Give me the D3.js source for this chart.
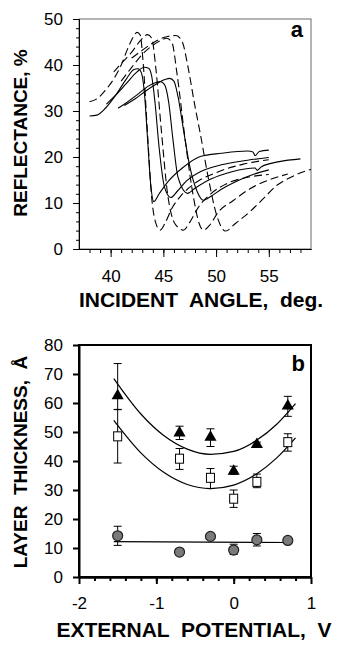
<!DOCTYPE html>
<html>
<head>
<meta charset="utf-8">
<script src="https://cdn.jsdelivr.net/npm/d3@7"></script>
<style>
  body { margin: 0; background: #fff; }
  svg { display: block; font-family: "Liberation Sans", Arial, sans-serif; }
  .tick text { font-size: 17px; fill: #000; }
  .title { font-weight: bold; fill: #000; white-space: pre; }
</style>
</head>
<body>
<svg width="337" height="647"></svg>
<script>
// ---- panel a : reflectance curves (angle, %) ----
const solid1 = [[38,28.9],[38.7,29.1],[39.5,30.6],[40.5,33.5],[41.5,37],[42.2,39],[42.6,39.2],[42.9,38.4],[43.2,34],[43.5,24],[43.8,14],[44.1,10.3],[44.6,12],[45.5,14.8],[46.8,17.6],[48.5,20.1],[50.5,20.8],[53,21.3],[53.5,21.1],[53.7,20.3],[54.1,21.2],[55,21.5]];
const solid2 = [[39.6,31.5],[40.5,33.5],[41.5,36],[42.5,38.5],[43.2,39.5],[43.6,39.3],[43.9,37.5],[44.2,32],[44.6,22],[45.1,13.5],[45.7,11.2],[46.3,12.5],[47.2,14.8],[48.5,16.8],[50.5,18.3],[53,19.3],[55,19.9]];
const solid3 = [[40.7,30.6],[41.5,31.8],[42.5,33.5],[43.5,35.3],[44.3,36.2],[44.7,36.4],[45.1,35.8],[45.5,32],[45.9,24],[46.4,15.5],[47.3,12.1],[48,13.2],[49.5,15.2],[51.5,16.8],[53.7,17.6],[53.9,17.1],[54.3,17.9],[56,19],[58,19.6]];
const solid4 = [[41.3,31.2],[42.3,32.6],[43.3,34.3],[44.3,35.8],[45.2,36.9],[45.6,37.1],[46,36.5],[46.4,33],[46.9,26],[47.5,18],[48.2,12.5],[48.8,10.6],[49.4,11.3],[50.5,13],[52,14.8],[53.5,16.2],[55,17.2]];
const dash1 = [[38,32],[38.8,32.8],[39.5,34.5],[40.3,37],[41,40],[41.7,44],[42.2,46.3],[42.5,47.1],[42.8,46.5],[43.1,40],[43.5,25],[43.9,11],[44.3,5.5],[44.7,4.1],[45.2,5.8],[45.8,8.8],[46.6,11.4],[48,14.3],[50,16.6],[52.5,18.4],[55,19.4]];
const dash2 = [[40.3,38.5],[41,40.3],[42,42.8],[42.9,45.5],[43.5,46.6],[43.9,45.8],[44.3,39],[44.8,26],[45.4,12],[46.1,5.5],[46.9,4.1],[47.5,5.8],[48.3,9],[49.5,12],[51,14.2],[53,15.6],[55,16.2]];
const dash3 = [[41,36.5],[42,39.5],[43,42.3],[44,44.3],[44.8,45.4],[45.3,45.8],[45.8,45],[46.3,38],[47,25],[47.8,12],[48.4,5.5],[48.8,4.1],[49.4,5.2],[50.2,8],[51.6,10.5],[53.3,13.2],[55,15],[56.8,16.3]];
const dash4 = [[42,41.5],[43,43.2],[44,44.8],[45.2,46.1],[46.2,46.4],[46.8,45],[47.3,40],[48,31],[48.5,25.1],[49.3,15],[50.1,7],[50.9,3.9],[51.8,5.5],[53.2,8.1],[54.5,11],[55.8,13.9],[57,15.5],[58.3,16.8],[59,17.3]];
const solidCurves = [solid1, solid2, solid3, solid4];
const dashCurves = [dash1, dash2, dash3, dash4];

// ---- panel b : layer thickness vs potential ----
const potentials = [-1.5, -0.7, -0.3, 0, 0.3, 0.7];
const triValues = [62.5, 49.7, 48.2, 36.5, 45.7, 59];
const triLow = [57.8, 47.4, 45, 35.4, 45, 55.4];
const triHigh = [73.6, 52, 51.1, 38.2, 46.5, 62.3];
const sqValues = [48.5, 40.8, 34.2, 27, 32.8, 46.5];
const sqLow = [39.3, 37.1, 30.5, 24, 30.8, 43.4];
const sqHigh = [57.7, 44.3, 37.4, 30, 35.5, 49.4];
const circValues = [14.2, 8.6, 14, 9.3, 12.8, 12.6];
const circLow = [10.9, 8.6, 14, 7.8, 10.7, 12.6];
const circHigh = [17.5, 8.6, 14, 11.3, 15, 12.6];
// fitted curves
const triFit = [[-1.55,68.4],[-1.2,56.2],[-0.9,48.7],[-0.6,44.1],[-0.3,42.3],[0,43.3],[0.3,47.2],[0.55,52.5],[0.8,59.8]];
const sqFit = [[-1.55,54],[-1.2,42.8],[-0.9,36],[-0.6,31.9],[-0.3,30.5],[0,31.7],[0.3,35.6],[0.55,40.9],[0.8,48]];
const circFit = [[-1.55,12.2],[0.75,11.9]];

const xTicksA = [40, 45, 50, 55];
const yTicksA = [0, 10, 20, 30, 40, 50];
const xTicksB = [-2, -1, 0, 1];
const yTicksB = [0, 10, 20, 30, 40, 50, 60, 70, 80];

const svg = d3.select('svg');

// ================= panel a =================
const xa = d3.scaleLinear().domain([37, 59]).range([79, 311]);
const ya = d3.scaleLinear().domain([0, 50]).range([249, 19]);
const pa = svg.append('g');

pa.append('rect')
    .attr('x', 79).attr('y', 19)
    .attr('width', 232).attr('height', 230)
    .attr('fill', 'none').attr('stroke', '#444').attr('stroke-width', 0.8);

pa.append('g')
    .attr('transform', 'translate(0,249)')
    .call(d3.axisBottom(xa).tickValues(d3.range(38, 59, 1)).tickSize(4).tickSizeOuter(0).tickFormat(''));
pa.append('g')
    .attr('transform', 'translate(0,249)')
    .call(d3.axisBottom(xa).tickValues(xTicksA).tickSize(8).tickPadding(13).tickSizeOuter(0));
pa.append('g')
    .attr('transform', 'translate(79,0)')
    .call(d3.axisLeft(ya).tickValues(d3.range(2, 50, 2)).tickSize(3).tickSizeOuter(0).tickFormat(''));
pa.append('g')
    .attr('transform', 'translate(79,0)')
    .call(d3.axisLeft(ya).tickValues(yTicksA).tickSize(6).tickPadding(10).tickSizeOuter(0));

const lineA = d3.line().x(d => xa(d[0])).y(d => ya(d[1])).curve(d3.curveMonotoneX);

pa.selectAll('.solidA')
    .data(solidCurves)
    .enter()
    .append('path')
    .attr('d', lineA)
    .attr('fill', 'none')
    .attr('stroke', '#000')
    .attr('stroke-width', 1.1);

pa.selectAll('.dashA')
    .data(dashCurves)
    .enter()
    .append('path')
    .attr('d', lineA)
    .attr('fill', 'none')
    .attr('stroke', '#000')
    .attr('stroke-width', 1.1)
    .attr('stroke-dasharray', '8,4');

pa.append('text').attr('class', 'title')
    .attr('x', 303).attr('y', 37)
    .attr('text-anchor', 'end')
    .style('font-size', '22px')
    .text('a');

pa.append('text').attr('class', 'title')
    .attr('x', 201).attr('y', 307)
    .attr('text-anchor', 'middle')
    .style('font-size', '21px')
    .text('INCIDENT  ANGLE,  deg.');

pa.append('text').attr('class', 'title')
    .attr('transform', 'translate(27,133) rotate(-90)')
    .attr('text-anchor', 'middle')
    .style('font-size', '19px')
    .text('REFLECTANCE, %');

// ================= panel b =================
const xb = d3.scaleLinear().domain([-2, 1]).range([79, 311]);
const yb = d3.scaleLinear().domain([0, 80]).range([577, 345]);
const pb = svg.append('g');

pb.append('rect')
    .attr('x', 79).attr('y', 345)
    .attr('width', 232).attr('height', 232)
    .attr('fill', 'none').attr('stroke', '#000').attr('stroke-width', 2);

pb.append('g')
    .attr('transform', 'translate(0,577)')
    .call(d3.axisBottom(xb).tickValues(d3.range(-1.8, 1, 0.2)).tickSize(4).tickSizeOuter(0).tickFormat(''))
    .selectAll('line').attr('stroke-width', 2);
pb.append('g')
    .attr('transform', 'translate(0,577)')
    .call(d3.axisBottom(xb).tickValues(xTicksB).tickSize(7).tickPadding(13).tickSizeOuter(0)
        .tickFormat(d => String(d).replace('\u2212', '-')))
    .selectAll('line').attr('stroke-width', 2);
pb.append('g')
    .attr('transform', 'translate(79,0)')
    .call(d3.axisLeft(yb).tickValues(yTicksB).tickSize(6).tickPadding(10).tickSizeOuter(0))
    .selectAll('line').attr('stroke-width', 2);
pb.selectAll('.domain').attr('stroke-width', 2);

const lineB = d3.line().x(d => xb(d[0])).y(d => yb(d[1])).curve(d3.curveMonotoneX);
[triFit, sqFit, circFit].forEach(f => {
    pb.append('path')
        .attr('d', lineB(f))
        .attr('fill', 'none')
        .attr('stroke', '#000')
        .attr('stroke-width', 1.2);
});

function errorBars(lo, hi) {
    const g = pb.append('g').attr('stroke', '#000').attr('stroke-width', 1);
    potentials.forEach((p, i) => {
        if (hi[i] - lo[i] < 0.5) return;
        g.append('line').attr('x1', xb(p)).attr('x2', xb(p)).attr('y1', yb(lo[i])).attr('y2', yb(hi[i]));
        g.append('line').attr('x1', xb(p) - 4).attr('x2', xb(p) + 4).attr('y1', yb(lo[i])).attr('y2', yb(lo[i]));
        g.append('line').attr('x1', xb(p) - 4).attr('x2', xb(p) + 4).attr('y1', yb(hi[i])).attr('y2', yb(hi[i]));
    });
}
errorBars(triLow, triHigh);
errorBars(sqLow, sqHigh);
errorBars(circLow, circHigh);

pb.selectAll('.tri')
    .data(triValues)
    .enter()
    .append('path')
    .attr('d', d3.symbol(d3.symbolTriangle, 64))
    .attr('transform', (d, i) => `translate(${xb(potentials[i])},${yb(d)})`)
    .attr('fill', '#000');

pb.selectAll('.sq')
    .data(sqValues)
    .enter()
    .append('rect')
    .attr('x', (d, i) => xb(potentials[i]) - 4)
    .attr('y', d => yb(d) - 4.5)
    .attr('width', 8).attr('height', 9)
    .attr('fill', '#fff')
    .attr('stroke', '#000')
    .attr('stroke-width', 1);

pb.selectAll('.circ')
    .data(circValues)
    .enter()
    .append('circle')
    .attr('cx', (d, i) => xb(potentials[i]))
    .attr('cy', d => yb(d))
    .attr('r', 5)
    .attr('fill', '#7a7a7a')
    .attr('stroke', '#222')
    .attr('stroke-width', 1.2);

pb.append('text').attr('class', 'title')
    .attr('x', 305).attr('y', 371)
    .attr('text-anchor', 'end')
    .style('font-size', '22px')
    .text('b');

pb.append('text').attr('class', 'title')
    .attr('x', 194).attr('y', 637)
    .attr('text-anchor', 'middle')
    .style('font-size', '21px')
    .text('EXTERNAL  POTENTIAL,  V');

pb.append('text').attr('class', 'title')
    .attr('transform', 'translate(27,462) rotate(-90)')
    .attr('text-anchor', 'middle')
    .style('font-size', '19px')
    .text('LAYER  THICKNESS,  Å');
</script>
</body>
</html>
